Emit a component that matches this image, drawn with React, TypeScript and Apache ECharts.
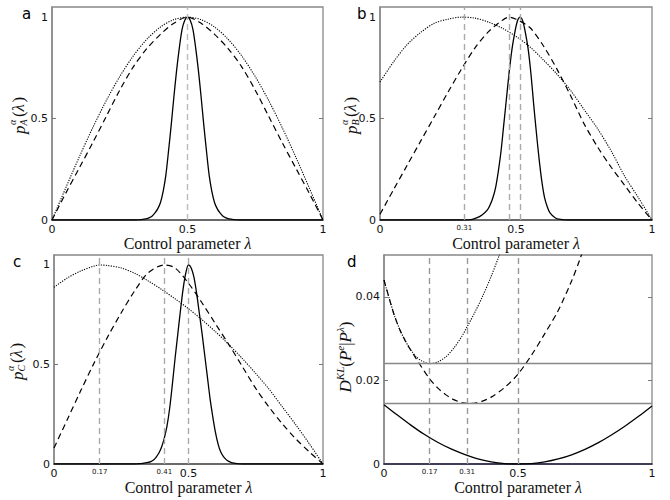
import React, { useEffect, useRef } from "react";
import * as echarts from "echarts";

// ---------- data ----------
// Panel a
const dotA: [number, number][] = [
  [0, 0], [0.05, 0.156], [0.1, 0.309], [0.15, 0.454], [0.2, 0.588], [0.25, 0.707], [0.3, 0.809],
  [0.35, 0.891], [0.4, 0.951], [0.45, 0.988], [0.5, 1], [0.55, 0.988], [0.6, 0.951], [0.65, 0.891],
  [0.7, 0.809], [0.75, 0.707], [0.8, 0.588], [0.85, 0.454], [0.9, 0.309], [0.95, 0.156], [1, 0],
];
const dashA: [number, number][] = [
  [0, 0], [0.05, 0.13], [0.1, 0.255], [0.15, 0.38], [0.2, 0.51], [0.25, 0.64], [0.3, 0.755],
  [0.35, 0.845], [0.4, 0.915], [0.45, 0.97], [0.5, 1], [0.55, 0.97], [0.6, 0.915], [0.65, 0.845],
  [0.7, 0.755], [0.75, 0.64], [0.8, 0.51], [0.85, 0.38], [0.9, 0.255], [0.95, 0.13], [1, 0],
];
const solidA: [number, number][] = [
  [0, 0], [0.3, 0], [0.32, 0.001], [0.33, 0.002], [0.34, 0.004], [0.35, 0.007], [0.36, 0.012],
  [0.37, 0.02], [0.38, 0.035], [0.39, 0.055], [0.4, 0.085], [0.41, 0.14], [0.42, 0.22], [0.43, 0.34],
  [0.44, 0.47], [0.45, 0.61], [0.46, 0.74], [0.47, 0.85], [0.48, 0.94], [0.49, 0.985], [0.5, 1],
  [0.51, 0.985], [0.52, 0.94], [0.53, 0.85], [0.54, 0.74], [0.55, 0.61], [0.56, 0.47], [0.57, 0.34],
  [0.58, 0.22], [0.59, 0.14], [0.6, 0.085], [0.61, 0.055], [0.62, 0.035], [0.63, 0.02], [0.64, 0.012],
  [0.65, 0.007], [0.66, 0.004], [0.67, 0.002], [0.68, 0.001], [0.7, 0], [1, 0],
];
// Panel b
const dotB: [number, number][] = [
  [0, 0.68], [0.05, 0.78], [0.1, 0.865], [0.15, 0.925], [0.2, 0.97], [0.25, 0.99], [0.3, 1.0],
  [0.35, 0.995], [0.4, 0.975], [0.45, 0.945], [0.5, 0.905], [0.55, 0.855], [0.6, 0.79], [0.65, 0.72],
  [0.7, 0.64], [0.75, 0.545], [0.8, 0.45], [0.85, 0.34], [0.9, 0.215], [0.95, 0.11], [1, 0],
];
const dashB: [number, number][] = [
  [0, 0.028], [0.05, 0.15], [0.1, 0.27], [0.15, 0.39], [0.2, 0.51], [0.25, 0.63], [0.3, 0.745],
  [0.35, 0.85], [0.4, 0.93], [0.45, 0.985], [0.475, 1.0], [0.5, 0.99], [0.55, 0.95], [0.6, 0.86],
  [0.65, 0.745], [0.7, 0.615], [0.75, 0.475], [0.8, 0.36], [0.85, 0.26], [0.9, 0.17], [0.95, 0.08], [1, 0],
];
const solidB: [number, number][] = [
  [0, 0], [0.315, 0], [0.335, 0.002], [0.355, 0.01], [0.375, 0.025], [0.395, 0.05], [0.405, 0.075],
  [0.415, 0.11], [0.425, 0.16], [0.435, 0.24], [0.445, 0.34], [0.455, 0.47], [0.465, 0.6], [0.475, 0.73],
  [0.485, 0.84], [0.495, 0.92], [0.505, 0.98], [0.515, 1], [0.525, 0.98], [0.535, 0.92], [0.545, 0.84],
  [0.555, 0.72], [0.565, 0.57], [0.575, 0.43], [0.585, 0.3], [0.595, 0.19], [0.605, 0.11], [0.615, 0.065],
  [0.625, 0.035], [0.645, 0.01], [0.665, 0.003], [0.69, 0], [1, 0],
];
// Panel c
const dotC: [number, number][] = [
  [0, 0.888], [0.05, 0.935], [0.1, 0.97], [0.15, 0.995], [0.17, 1.0], [0.2, 0.997], [0.25, 0.985],
  [0.3, 0.958], [0.35, 0.92], [0.4, 0.877], [0.45, 0.83], [0.5, 0.78], [0.55, 0.725], [0.6, 0.665],
  [0.65, 0.6], [0.7, 0.53], [0.75, 0.455], [0.8, 0.375], [0.85, 0.285], [0.9, 0.195], [0.95, 0.1], [1, 0],
];
const dashC: [number, number][] = [
  [0, 0.08], [0.05, 0.225], [0.1, 0.37], [0.15, 0.51], [0.2, 0.64], [0.25, 0.76], [0.3, 0.87],
  [0.35, 0.96], [0.41, 1.0], [0.45, 0.985], [0.5, 0.908], [0.55, 0.81], [0.6, 0.705], [0.65, 0.6],
  [0.7, 0.49], [0.75, 0.38], [0.8, 0.285], [0.85, 0.2], [0.9, 0.125], [0.95, 0.06], [1, 0],
];
const solidC: [number, number][] = [
  [0, 0], [0.29, 0], [0.31, 0.001], [0.33, 0.003], [0.35, 0.008], [0.36, 0.012], [0.37, 0.02],
  [0.38, 0.035], [0.39, 0.055], [0.4, 0.085], [0.41, 0.13], [0.42, 0.19], [0.43, 0.28], [0.44, 0.4],
  [0.45, 0.53], [0.46, 0.65], [0.47, 0.77], [0.48, 0.88], [0.49, 0.96], [0.5, 1], [0.51, 0.985],
  [0.52, 0.94], [0.53, 0.86], [0.54, 0.76], [0.55, 0.66], [0.56, 0.55], [0.57, 0.44], [0.58, 0.33],
  [0.59, 0.24], [0.6, 0.16], [0.61, 0.1], [0.62, 0.06], [0.63, 0.037], [0.64, 0.022], [0.65, 0.013],
  [0.66, 0.007], [0.68, 0.002], [0.7, 0], [1, 0],
];
// Panel d
const solidD: [number, number][] = [
  [0, 0.0142], [0.05, 0.0117], [0.1, 0.0093], [0.15, 0.0071], [0.2, 0.0052], [0.25, 0.0036], [0.3, 0.0023],
  [0.35, 0.0012], [0.4, 0.0005], [0.45, 0.0001], [0.5, 0], [0.55, 0.0001], [0.6, 0.0005], [0.65, 0.0012],
  [0.7, 0.0022], [0.75, 0.0035], [0.8, 0.0051], [0.85, 0.007], [0.9, 0.0091], [0.95, 0.0114], [1, 0.0139],
];
const dashD: [number, number][] = [
  [0, 0.044], [0.02, 0.0395], [0.04, 0.0353], [0.06, 0.032], [0.08, 0.0294], [0.1, 0.0272], [0.12, 0.0252],
  [0.14, 0.0232], [0.17, 0.0204], [0.2, 0.0182], [0.23, 0.0166], [0.26, 0.0154], [0.29, 0.0147], [0.31, 0.0145],
  [0.34, 0.0146], [0.37, 0.0151], [0.4, 0.016], [0.45, 0.0183], [0.5, 0.0215], [0.55, 0.026], [0.6, 0.0312],
  [0.65, 0.0367], [0.7, 0.0438], [0.73, 0.0488], [0.76, 0.0545],
];
const dotD: [number, number][] = [
  [0, 0.044], [0.02, 0.0395], [0.04, 0.0353], [0.06, 0.032], [0.08, 0.0294], [0.1, 0.0273], [0.12, 0.0257],
  [0.14, 0.0247], [0.17, 0.024], [0.2, 0.0244], [0.23, 0.0256], [0.26, 0.0277], [0.29, 0.0305], [0.31, 0.0328],
  [0.34, 0.0364], [0.37, 0.0404], [0.4, 0.0449], [0.43, 0.0499], [0.45, 0.0535],
];

// reference lines
const vLinesA = [0.5];
const vLinesB = [0.31, 0.475, 0.515];
const vLinesC = [0.17, 0.41, 0.5];
const vLinesD = [0.17, 0.31, 0.5];
const hLinesD = [0.024, 0.0145];

// tick labels
const xTicksA = [0, 0.5, 1];
const xTicksB = [0, 0.31, 0.5, 1];
const xTicksC = [0, 0.17, 0.41, 0.5, 1];
const xTicksD = [0, 0.17, 0.31, 0.5, 1];
const smallTicks = [0.17, 0.31, 0.41];
const yTicksP = [0, 0.5, 1];
const yTicksD = [0, 0.02, 0.04];
const panelLetters = ["a", "b", "c", "d"];
const subLetters = ["A", "B", "C"];

// ---------- styling ----------
const SERIF = '"Liberation Serif", "DejaVu Serif", serif';
const SANS = '"DejaVu Sans", sans-serif';
const grids = [
  { left: 52, top: 7, width: 271, height: 213 },
  { left: 380, top: 7, width: 272, height: 213 },
  { left: 54, top: 255, width: 269, height: 209 },
  { left: 384, top: 255, width: 268, height: 209 },
];

function xAxisFor(i: number, ticks: number[], lineColor: string) {
  return {
    gridIndex: i,
    type: "value",
    min: 0,
    max: 1,
    splitLine: { show: false },
    axisTick: { show: false },
    axisLine: { show: true, lineStyle: { color: lineColor, width: 1.5 } },
    axisLabel: {
      customValues: ticks,
      margin: 4,
      fontSize: 11,
      fontFamily: SANS,
      color: "#111",
      formatter: (v: number) => (smallTicks.includes(Math.round(v * 100) / 100) ? `{s|${v}}` : `${v}`),
      rich: { s: { fontSize: 7, fontFamily: SANS, color: "#111" } },
    },
    name: "Control parameter {i|λ}",
    nameLocation: "middle",
    nameGap: 13,
    nameTextStyle: {
      fontFamily: SERIF,
      fontSize: 16,
      color: "#111",
      rich: { i: { fontFamily: SERIF, fontSize: 16, fontStyle: "italic", color: "#111" } },
    },
  };
}

function yAxisFor(i: number, max: number, labels: number[], ticks: number[]) {
  return {
    gridIndex: i,
    type: "value",
    min: 0,
    max,
    splitLine: { show: false },
    axisLine: { show: true, lineStyle: { color: "#888", width: 1.5 } },
    axisTick: { show: true, inside: true, length: 4, customValues: ticks, lineStyle: { color: "#777" } },
    axisLabel: { customValues: labels, margin: 4, fontSize: 11, fontFamily: SANS, color: "#111" },
  };
}

function yAxisRight(i: number, max: number, ticks: number[]) {
  return {
    gridIndex: i,
    type: "value",
    position: "right",
    min: 0,
    max,
    splitLine: { show: false },
    axisLine: { show: false },
    axisTick: { show: true, inside: true, length: 4, customValues: ticks, lineStyle: { color: "#777" } },
    axisLabel: { show: false },
  };
}

type Kind = "solid" | "dash" | "dot";
function curve(i: number, data: [number, number][], kind: Kind, extra: any = {}) {
  return {
    type: "line",
    xAxisIndex: i,
    yAxisIndex: i,
    data,
    symbol: "none",
    showSymbol: false,
    smooth: 0.3,
    clip: true,
    z: 3,
    lineStyle: {
      color: "#000",
      width: kind === "solid" ? 1.3 : kind === "dash" ? 1.2 : 1.1,
      type: kind === "solid" ? "solid" : kind === "dash" ? [6, 4] : [1.2, 1.3],
    },
    ...extra,
  };
}

function vMark(xs: number[], color: string) {
  return {
    markLine: {
      silent: true,
      precision: 5,
      symbol: ["none", "none"],
      label: { show: false },
      emphasis: { disabled: true },
      lineStyle: { color, type: [6, 4], width: 1.4 },
      data: xs.map((x) => ({ xAxis: x })),
    },
  };
}

function pLabel(cx: number, cy: number, sub: string) {
  const t = (x: number, y: number, text: string, size: number, italic: boolean) => ({
    type: "text",
    x,
    y,
    style: {
      text,
      fontSize: size,
      fontFamily: SERIF,
      fontStyle: italic ? "italic" : "normal",
      fill: "#111",
      textAlign: "left",
      textVerticalAlign: "middle",
    },
  });
  return {
    type: "group",
    x: cx,
    y: cy,
    rotation: Math.PI / 2,
    children: [
      t(-19, 1, "p", 17, true),
      t(-10, -6, "α", 10, true),
      t(-10.5, 5, sub, 10, true),
      t(-2, 0, "(", 17, false),
      t(3.5, 0, "λ", 17, true),
      t(12.5, 0, ")", 17, false),
    ],
  };
}

const option: any = {
  animation: false,
  backgroundColor: "#fff",
  textStyle: { fontFamily: SANS },
  grid: grids.map((g) => ({ ...g, show: true, borderColor: "#888", borderWidth: 1.3, backgroundColor: "transparent" })),
  xAxis: [
    xAxisFor(0, xTicksA, "#555"),
    xAxisFor(1, xTicksB, "#555"),
    xAxisFor(2, xTicksC, "#555"),
    xAxisFor(3, xTicksD, "#1c1c3a"),
  ],
  yAxis: [
    yAxisFor(0, 1.05, yTicksP, [0.5]),
    yAxisFor(1, 1.05, yTicksP, [0.5]),
    yAxisFor(2, 1.05, yTicksP, [0.5]),
    yAxisFor(3, 0.05, yTicksD, [0.02, 0.04]),
    yAxisRight(0, 1.05, [0.5]),
    yAxisRight(1, 1.05, [0.5]),
    yAxisRight(2, 1.05, [0.5]),
    yAxisRight(3, 0.05, [0.02, 0.04]),
  ],
  series: [
    curve(0, solidA, "solid", vMark(vLinesA, "#bbb")),
    curve(0, dashA, "dash"),
    curve(0, dotA, "dot"),
    curve(1, solidB, "solid", vMark(vLinesB, "#aaa")),
    curve(1, dashB, "dash"),
    curve(1, dotB, "dot"),
    curve(2, solidC, "solid", vMark(vLinesC, "#aaa")),
    curve(2, dashC, "dash"),
    curve(2, dotC, "dot"),
    curve(3, solidD, "solid", vMark(vLinesD, "#999")),
    curve(3, dashD, "dash"),
    curve(3, dotD, "dot", {
      markLine: {
        silent: true,
        precision: 5,
        symbol: ["none", "none"],
        label: { show: false },
        emphasis: { disabled: true },
        lineStyle: { color: "#888", type: "solid", width: 1.3 },
        data: hLinesD.map((y) => ({ yAxis: y })),
      },
    }),
  ],
  graphic: [
    { type: "text", x: 22, y: 13.5, style: { text: panelLetters[0], fontSize: 15, fontFamily: SANS, fill: "#000", textVerticalAlign: "middle" } },
    { type: "text", x: 357, y: 13.5, style: { text: panelLetters[1], fontSize: 15, fontFamily: SANS, fill: "#000", textVerticalAlign: "middle" } },
    { type: "text", x: 13, y: 261.5, style: { text: panelLetters[2], fontSize: 15, fontFamily: SANS, fill: "#000", textVerticalAlign: "middle" } },
    { type: "text", x: 347, y: 262, style: { text: panelLetters[3], fontSize: 15, fontFamily: SANS, fill: "#000", textVerticalAlign: "middle" } },
    pLabel(18, 115, subLetters[0]),
    pLabel(350, 115, subLetters[1]),
    pLabel(16, 361, subLetters[2]),
    {
      type: "text",
      x: 345,
      y: 357,
      rotation: Math.PI / 2,
      style: {
        text: "{m|D}{s|KL}{u|(}{m|P}{s|e}{u||}{m|P}{s|λ}{u|)}",
        textAlign: "center",
        textVerticalAlign: "middle",
        fill: "#111",
        rich: {
          m: { fontFamily: SERIF, fontSize: 17, fontStyle: "italic", lineHeight: 22, fill: "#111" },
          u: { fontFamily: SERIF, fontSize: 17, lineHeight: 22, fill: "#111" },
          s: { fontFamily: SERIF, fontSize: 11, fontStyle: "italic", verticalAlign: "top", fill: "#111" },
        },
      },
    },
  ],
};

export default function App() {
  const ref = useRef<HTMLDivElement>(null);
  useEffect(() => {
    if (!ref.current) return;
    const chart = echarts.init(ref.current, null, { renderer: "svg" });
    chart.setOption(option);
    return () => chart.dispose();
  }, []);
  return <div ref={ref} style={{ position: "fixed", left: 0, top: 0, width: 670, height: 500, background: "#fff" }} />;
}
